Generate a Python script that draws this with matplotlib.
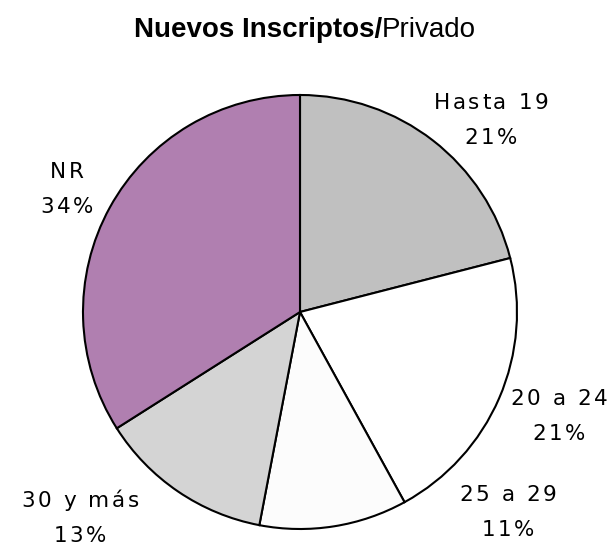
import matplotlib.pyplot as plt
from matplotlib.transforms import IdentityTransform

categories = ['Hasta 19', '20 a 24', '25 a 29', '30 y más', 'NR']
values = [21, 21, 11, 13, 34]
colors = ['#c0c0c0', '#ffffff', '#fcfcfc', '#d4d4d4', '#b07fb0']

# label centres, in pie radius units
label_pos = [(0.88, 0.853), (1.194, -0.512), (0.959, -0.955), (-1.014, -0.98), (-1.074, 0.535)]

W, H = 610, 546
fig = plt.figure(figsize=(W / 100, H / 100), dpi=100)
ax = fig.add_axes([(300 - 217) / W, 1 - (312 + 217) / H, 434 / W, 434 / H])

ax.pie(values, colors=colors, startangle=90, counterclock=False,
       wedgeprops=dict(edgecolor='black', linewidth=1.5))
ax.set_xlim(-1, 1)
ax.set_ylim(-1, 1)

renderer = fig.canvas.get_renderer()
LABEL_SIZE = 15.5
GAP = 2.6  # extra letter spacing, px


def text_width(s):
    t = fig.text(0, 0, s, fontsize=LABEL_SIZE, family='DejaVu Sans')
    w = t.get_window_extent(renderer).width
    t.remove()
    return w


def spaced_line(cx, y, s):
    # draw s centred on cx (display px) with wider letter spacing
    bar = text_width('|')
    offs = [text_width(s[:i] + '|') - bar if i else 0 for i in range(len(s))]
    total = text_width(s) + GAP * (len(s) - 1)
    x0 = cx - total / 2
    for i, ch in enumerate(s):
        if ch == ' ':
            continue
        fig.text(x0 + offs[i] + GAP * i, y, ch, fontsize=LABEL_SIZE,
                 family='DejaVu Sans', ha='left', va='baseline',
                 transform=IdentityTransform())


for name, v, (x, y) in zip(categories, values, label_pos):
    cx, cy = ax.transData.transform((x, y))
    spaced_line(cx, cy + 18, name)
    spaced_line(cx, cy - 17, str(v) + '%')

# title: bold part + regular part
fig.text(382 / W, 1 - 37 / H, 'Nuevos Inscriptos/', ha='right', va='baseline',
         fontsize=20, fontweight='bold', family='Liberation Sans')
fig.text(382 / W, 1 - 37 / H, 'Privado', ha='left', va='baseline',
         fontsize=20, family='Liberation Sans')

fig.savefig('out.png', dpi=100)
